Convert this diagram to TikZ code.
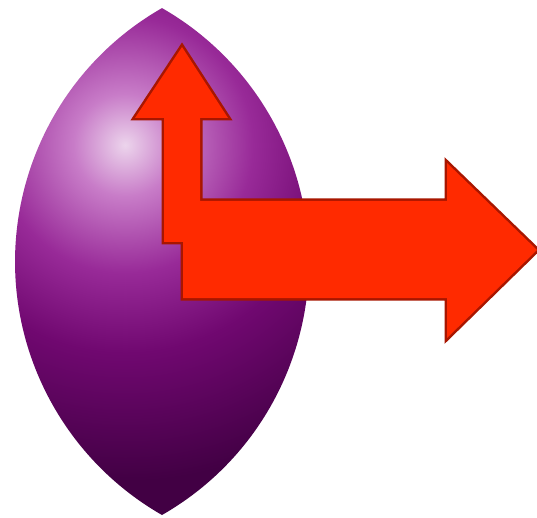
\documentclass[tikz,border=0pt]{standalone}
\usetikzlibrary{calc}
\definecolor{lenslight}{RGB}{236,212,236}
\definecolor{lenspale}{RGB}{200,124,200}
\definecolor{lensmid}{RGB}{152,42,152}
\definecolor{lensdeep}{RGB}{112,8,112}
\definecolor{lensdark}{RGB}{66,0,68}
\definecolor{arrowred}{RGB}{255,42,0}
\definecolor{arrowline}{RGB}{168,22,0}
\pgfdeclareradialshading{lensshade}{\pgfpointorigin}{color(0bp)=(lenslight); color(3.2bp)=(lenspale); color(8bp)=(lensmid); color(13bp)=(lensdeep); color(21bp)=(lensdark); color(50bp)=(lensdark)}

% outlines of the two arrows
\newcommand{\smallarrowpath}{(164,275) -- (164,399) -- (135,399) -- (182,470) -- (228,399) -- (200,399) -- (200,275) -- cycle}
\newcommand{\bigarrowpath}{(183,316) -- (447,316) -- (447,354) -- (537,267) -- (447,179) -- (447,219) -- (183,219) -- cycle}

\begin{document}
\begin{tikzpicture}[x=1pt,y=1pt,
arrowedge/.style={draw=arrowline, line width=5pt, line join=miter},
arrowfill/.style={fill=arrowred}]

\useasboundingbox[fill=white] (0,0) rectangle (537,517);

% lens
\coordinate (bottomtip) at (162,2);
\coordinate (glow) at (125,372);
\begin{scope}
\clip (bottomtip) arc[start angle=-60.2, end angle=60.2, radius=292.1pt]
 arc[start angle=119.8, end angle=240.2, radius=292.1pt] -- cycle;
\shade[shading=lensshade] (glow) circle (400pt);
\end{scope}

% arrows: edges first, fills on top so the two merge
\draw[arrowedge] \smallarrowpath;
\draw[arrowedge] \bigarrowpath;
\fill[arrowfill] \smallarrowpath;
\fill[arrowfill] \bigarrowpath;

\end{tikzpicture}
\end{document}
